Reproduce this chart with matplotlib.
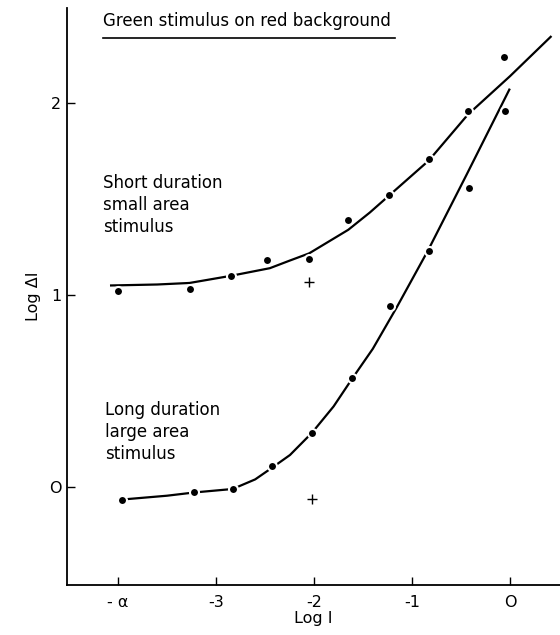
import matplotlib
matplotlib.use("Agg")
import matplotlib.pyplot as plt

# measured points (log I, log dI); -alpha plotted at x = -4
short_x = [-4.0, -3.27, -2.85, -2.48, -2.05, -1.65, -1.23, -0.83, -0.43, -0.06]
short_y = [1.02, 1.03, 1.10, 1.18, 1.19, 1.39, 1.52, 1.71, 1.96, 2.24]
long_x = [-3.96, -3.22, -2.83, -2.43, -2.02, -1.61, -1.22, -0.83, -0.415, -0.05]
long_y = [-0.065, -0.024, -0.01, 0.109, 0.283, 0.568, 0.944, 1.229, 1.556, 1.96]
plus_x = [-2.05, -2.02]
plus_y = [1.07, -0.06]

# hand-drawn fitted curves
short_fit_x = [-4.07, -3.6, -3.27, -2.85, -2.45, -2.245, -2.05, -1.65, -1.43,
               -1.23, -0.83, -0.43, 0.0, 0.415]
short_fit_y = [1.05, 1.055, 1.063, 1.10, 1.14, 1.18, 1.217, 1.34, 1.43,
               1.52, 1.70, 1.94, 2.14, 2.345]
long_fit_x = [-3.96, -3.5, -3.22, -2.83, -2.6, -2.43, -2.245, -2.02, -1.8,
              -1.61, -1.4, -1.157, -0.834, -0.44, -0.007]
long_fit_y = [-0.065, -0.045, -0.028, -0.01, 0.04, 0.10, 0.167, 0.283, 0.42,
              0.565, 0.72, 0.935, 1.235, 1.63, 2.07]

xticks = [-4, -3, -2, -1, 0]
xtick_labels = ['- α', '-3', '-2', '-1', 'O']
yticks = [0, 1, 2]
ytick_labels = ['O', '1', '2']

fig = plt.figure(figsize=(5.6, 6.35), dpi=100)
ax = fig.add_axes([67 / 560, 50 / 635, 1 - 67 / 560, 577 / 635])

ax.plot(short_fit_x, short_fit_y, color='black', lw=1.6, zorder=2)
ax.plot(long_fit_x, long_fit_y, color='black', lw=1.6, zorder=2)
ax.plot(short_x, short_y, 'o', color='black', ms=6.5, mec='white', mew=1.5, zorder=3)
ax.plot(long_x, long_y, 'o', color='black', ms=6.5, mec='white', mew=1.5, zorder=3)
ax.plot(plus_x, plus_y, '+', color='black', ms=7, mew=1.0, zorder=3)

ax.set_xlim(-4.52, 0.51)
ax.set_ylim(-0.51, 2.495)

for side in ['top', 'right']:
    ax.spines[side].set_visible(False)
for side in ['left', 'bottom']:
    ax.spines[side].set_linewidth(1.3)

ax.set_xticks(xticks)
ax.set_xticklabels(xtick_labels)
ax.set_yticks(yticks)
ax.set_yticklabels(ytick_labels)
ax.tick_params(direction='in', length=6, width=1, labelsize=11.5)
ax.tick_params(axis='x', pad=7)
ax.tick_params(axis='y', pad=4)

ax.set_xlabel('Log I', fontsize=11.5, labelpad=1)
ax.set_ylabel('Log ΔI', fontsize=11.5, labelpad=6)

ax.text(-4.15, 2.425, 'Green stimulus on red background', fontsize=12,
        va='center', ha='left')
ax.plot([-4.15, -1.17], [2.34, 2.34], color='black', lw=1.2, clip_on=False)

ax.text(-4.15, 1.63, 'Short duration\nsmall area\nstimulus', fontsize=12,
        va='top', ha='left', linespacing=1.3)
ax.text(-4.13, 0.45, 'Long duration\nlarge area\nstimulus', fontsize=12,
        va='top', ha='left', linespacing=1.3)

fig.savefig('out.png', dpi=100)
